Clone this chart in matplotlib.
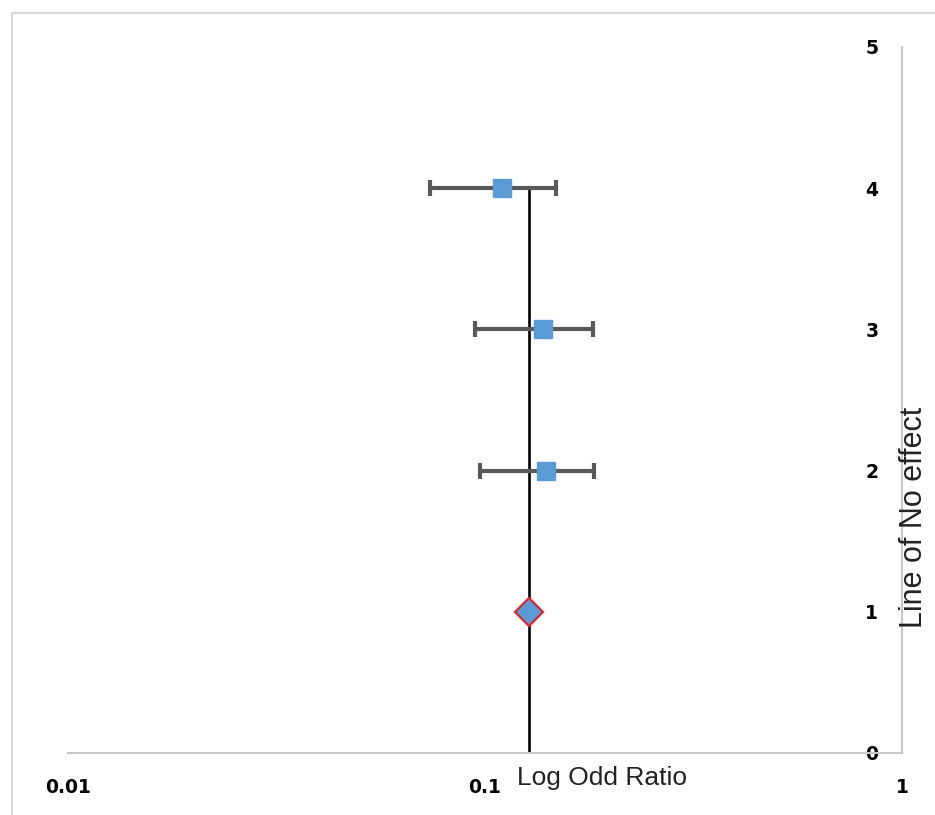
import matplotlib.pyplot as plt
from matplotlib.patches import Rectangle

# study estimates (odds ratio, lower CI, upper CI) at rows 4, 3, 2
rows = [4, 3, 2]
odds = [0.110, 0.138, 0.140]
ci_low = [0.0738, 0.0946, 0.0973]
ci_high = [0.148, 0.1815, 0.183]

# pooled estimate
pooled_row = 1
pooled_or = 0.1275

# line of no effect
line_x = [0.1275, 0.1275]
line_y = [0, 4]

x_ticks = [0.01, 0.1, 1]
x_labels = ["0.01", "0.1", "1"]
y_ticks = [0, 1, 2, 3, 4, 5]

fig = plt.figure(figsize=(9.35, 8.15), dpi=100)
ax = fig.add_axes([68 / 935, 62 / 815, 834 / 935, 706 / 815])

# chart frame
fig.patches.append(Rectangle((12 / 935, -0.05), 1.2, 0.05 + 802 / 815,
                             transform=fig.transFigure, fill=False,
                             edgecolor="#d9d9d9", lw=1.5, zorder=0))

ax.plot(line_x, line_y, color="black", lw=1.9, zorder=2)

err_lo = [o - l for o, l in zip(odds, ci_low)]
err_hi = [h - o for o, h in zip(odds, ci_high)]
ax.errorbar(odds, rows, xerr=[err_lo, err_hi], fmt="none", ecolor="#595959",
            elinewidth=3, capsize=6, capthick=3, zorder=3)
ax.plot(odds, rows, "s", color="#5b9bd5", markersize=13, zorder=4)
ax.plot([pooled_or], [pooled_row], "D", markerfacecolor="#5b9bd5",
        markeredgecolor="#e0242f", markeredgewidth=1.6, markersize=14, zorder=4)

ax.set_xscale("log")
ax.set_xlim(0.01, 1)
ax.set_ylim(0, 5)
ax.set_xticks(x_ticks)
ax.set_xticklabels(x_labels)
ax.minorticks_off()
ax.set_yticks(y_ticks)

for s in ["top", "left"]:
    ax.spines[s].set_visible(False)
ax.spines["bottom"].set_color("#c8c8c8")
ax.spines["bottom"].set_linewidth(1.5)
ax.spines["right"].set_color("#c8c8c8")
ax.spines["right"].set_linewidth(1.5)

ax.tick_params(axis="x", length=0, pad=18, labelsize=13.5)
ax.tick_params(axis="y", left=False, right=False, labelleft=False,
               labelright=True, pad=-30, labelsize=13.5)
for lab in ax.get_xticklabels() + ax.get_yticklabels():
    lab.set_fontweight("bold")
for lab in ax.get_yticklabels():
    lab.set_horizontalalignment("left")

fig.text(517 / 935, 1 - 785 / 815, "Log Odd Ratio", ha="left", va="baseline",
         fontsize=19, family=["Liberation Sans Narrow", "Liberation Sans"],
         color="#222222")
fig.text(914 / 935, 1 - 517 / 815, "Line of No effect", rotation=90,
         ha="center", va="center", fontsize=22,
         family=["Liberation Sans", "DejaVu Sans"], color="#222222")

fig.savefig("out.png", dpi=100)
